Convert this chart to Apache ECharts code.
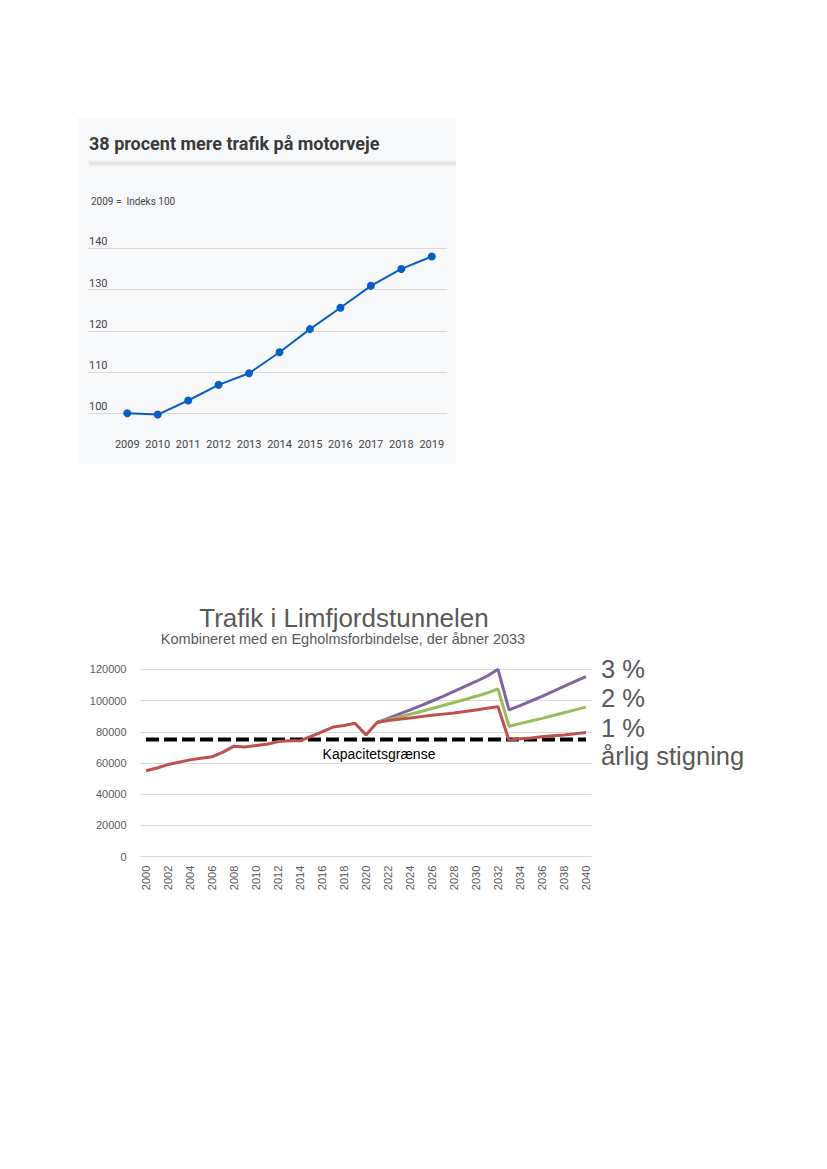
<!DOCTYPE html>
<html>
<head>
<meta charset="utf-8">
<script src="https://cdn.jsdelivr.net/npm/echarts@6/dist/echarts.min.js"></script>
<style>
  html, body { margin: 0; padding: 0; background: #ffffff; }
  #main { width: 827px; height: 1169px; }
</style>
</head>
<body>
<div id="main"></div>
<script>
// ---------- Chart 1: motorveje ----------
const years1 = [2009, 2010, 2011, 2012, 2013, 2014, 2015, 2016, 2017, 2018, 2019];
const index1 = [100, 99.7, 103.1, 106.9, 109.7, 114.8, 120.4, 125.6, 130.9, 135.0, 138.0];
const yTicks1 = [100, 110, 120, 130, 140];

// ---------- Chart 2: Limfjordstunnelen ----------
const years2 = ['2000','2001','2002','2003','2004','2005','2006','2007','2008','2009',
  '2010','2011','2012','2013','2014','2015','2016','2017','2018','2019',
  '2020','2021','2022','2023','2024','2025','2026','2027','2028','2029',
  '2030','2031','2032','2033','2034','2035','2036','2037','2038','2039','2040'];
const red1pct = [55000, 56800, 59000, 60500, 62000, 63000, 64000, 67000, 70800, 70200,
  71200, 72000, 73800, 74200, 74200, 77000, 80000, 83000, 84000, 85500,
  78000, 86000, 87200, 88000, 88800, 89700, 90600, 91300, 92000, 93000,
  94000, 95000, 96000, 74500, 75500, 76000, 76800, 77500, 78000, 78700, 79500];
const green2pct = [null, null, null, null, null, null, null, null, null, null,
  null, null, null, null, null, null, null, null, null, null,
  null, 86000, 87700, 89500, 91200, 93000, 94900, 96800, 98700, 100700,
  102700, 104800, 107500, 83500, 85200, 86900, 88600, 90400, 92200, 94000, 95800];
const purple3pct = [null, null, null, null, null, null, null, null, null, null,
  null, null, null, null, null, null, null, null, null, null,
  null, 86000, 88600, 91300, 94000, 96800, 99700, 102700, 105800, 109000,
  112200, 115600, 120000, 94000, 96800, 99700, 102700, 105800, 109000, 112200, 115300];
const capacity = [75000, 75000, 75000, 75000, 75000, 75000, 75000, 75000, 75000, 75000,
  75000, 75000, 75000, 75000, 75000, 75000, 75000, 75000, 75000, 75000,
  75000, 75000, 75000, 75000, 75000, 75000, 75000, 75000, 75000, 75000,
  75000, 75000, 75000, 75000, 75000, 75000, 75000, 75000, 75000, 75000, 75000];
const rightLabels = ['3 %', '2 %', '1 %', 'årlig stigning'];

const chart = echarts.init(document.getElementById('main'), null, { renderer: 'svg', width: 827, height: 1169 });

const F1 = 'Roboto, "Noto Sans", sans-serif';
const F2 = '"Liberation Sans", Arial, sans-serif';

const option = {
  backgroundColor: '#ffffff',
  animation: false,
  graphic: [
    { type: 'rect', z: -10, shape: { x: 78, y: 118, width: 378, height: 346 }, style: { fill: '#f7f8fa' } },
    { type: 'rect', z: -9, shape: { x: 89, y: 161.5, width: 367, height: 4 }, style: { fill: '#e4e4e4' } },
    { type: 'text', x: 89, y: 143, style: { text: '38 procent mere trafik på motorveje', font: 'bold 18px ' + F1, fill: '#3a3a3a', verticalAlign: 'middle' } },
    { type: 'text', x: 91, y: 201, style: { text: '2009 =  Indeks 100', font: '10px ' + F1, fill: '#444444', verticalAlign: 'middle' } },
    { type: 'text', x: 344, y: 617.5, style: { text: 'Trafik i Limfjordstunnelen', font: '26px ' + F2, fill: '#595959', align: 'center', verticalAlign: 'middle' } },
    { type: 'text', x: 343, y: 638.5, style: { text: 'Kombineret med en Egholmsforbindelse, der åbner 2033', font: '14.5px ' + F2, fill: '#595959', align: 'center', verticalAlign: 'middle' } },
    { type: 'text', x: 379, y: 754, style: { text: 'Kapacitetsgrænse', font: '14px ' + F2, fill: '#000000', align: 'center', verticalAlign: 'middle' } },
    { type: 'text', x: 601, y: 669, style: { text: rightLabels[0], font: '25.5px ' + F2, fill: '#595959', verticalAlign: 'middle' } },
    { type: 'text', x: 601, y: 698, style: { text: rightLabels[1], font: '25.5px ' + F2, fill: '#595959', verticalAlign: 'middle' } },
    { type: 'text', x: 601, y: 728, style: { text: rightLabels[2], font: '25.5px ' + F2, fill: '#595959', verticalAlign: 'middle' } },
    { type: 'text', x: 601, y: 756, style: { text: rightLabels[3], font: '25.5px ' + F2, fill: '#595959', verticalAlign: 'middle' } }
  ],
  grid: [
    { left: 88, width: 359, top: 248.3, height: 165, containLabel: false },
    { left: 140.5, width: 451, top: 669.3, height: 187.4, containLabel: false }
  ],
  xAxis: [
    {
      gridIndex: 0, type: 'value', min: 2007.71, max: 2019.5,
      axisLine: { show: false }, axisTick: { show: false }, splitLine: { show: false },
      axisLabel: {
        customValues: years1, margin: 26, color: '#444444', fontSize: 11, fontFamily: F1,
        formatter: v => String(v)
      }
    },
    {
      gridIndex: 1, type: 'category', data: years2, boundaryGap: true,
      axisLine: { show: false }, axisTick: { show: false },
      axisLabel: { interval: 1, rotate: 90, margin: 9, color: '#595959', fontSize: 11, fontFamily: F2 }
    }
  ],
  yAxis: [
    {
      gridIndex: 0, type: 'value', min: yTicks1[0], max: yTicks1[yTicks1.length - 1], interval: 10,
      axisLine: { show: false }, axisTick: { show: false },
      splitLine: { lineStyle: { color: '#d9d9d9', width: 1 } },
      axisLabel: { inside: true, margin: 1, align: 'left', verticalAlign: 'bottom', padding: [0, 0, 1, 0], color: '#444444', fontSize: 11, fontFamily: F1 }
    },
    {
      gridIndex: 1, type: 'value', min: 0, max: 120000, interval: 20000,
      axisLine: { show: false }, axisTick: { show: false },
      splitLine: { lineStyle: { color: '#d9d9d9', width: 1 } },
      axisLabel: { margin: 14, color: '#595959', fontSize: 11, fontFamily: F2, formatter: v => String(v) }
    }
  ],
  series: [
    {
      type: 'line', xAxisIndex: 0, yAxisIndex: 0, clip: false,
      data: years1.map((y, i) => [y, index1[i]]),
      symbol: 'circle', symbolSize: 8,
      lineStyle: { color: '#0a5dc2', width: 2 },
      itemStyle: { color: '#0a5dc2' }
    },
    {
      name: 'Kapacitet', type: 'line', xAxisIndex: 1, yAxisIndex: 1, data: capacity,
      symbol: 'none', lineStyle: { color: '#000000', width: 4, type: [13, 5], cap: 'butt' }, z: 1
    },
    {
      name: '3 %', type: 'line', xAxisIndex: 1, yAxisIndex: 1, data: purple3pct, clip: false,
      symbol: 'none', lineStyle: { color: '#8064a2', width: 3 }, z: 2
    },
    {
      name: '2 %', type: 'line', xAxisIndex: 1, yAxisIndex: 1, data: green2pct, clip: false,
      symbol: 'none', lineStyle: { color: '#9bbb59', width: 3 }, z: 3
    },
    {
      name: '1 %', type: 'line', xAxisIndex: 1, yAxisIndex: 1, data: red1pct, clip: false,
      symbol: 'none', lineStyle: { color: '#c0504d', width: 3 }, z: 4
    }
  ]
};
chart.setOption(option);
</script>
</body>
</html>
